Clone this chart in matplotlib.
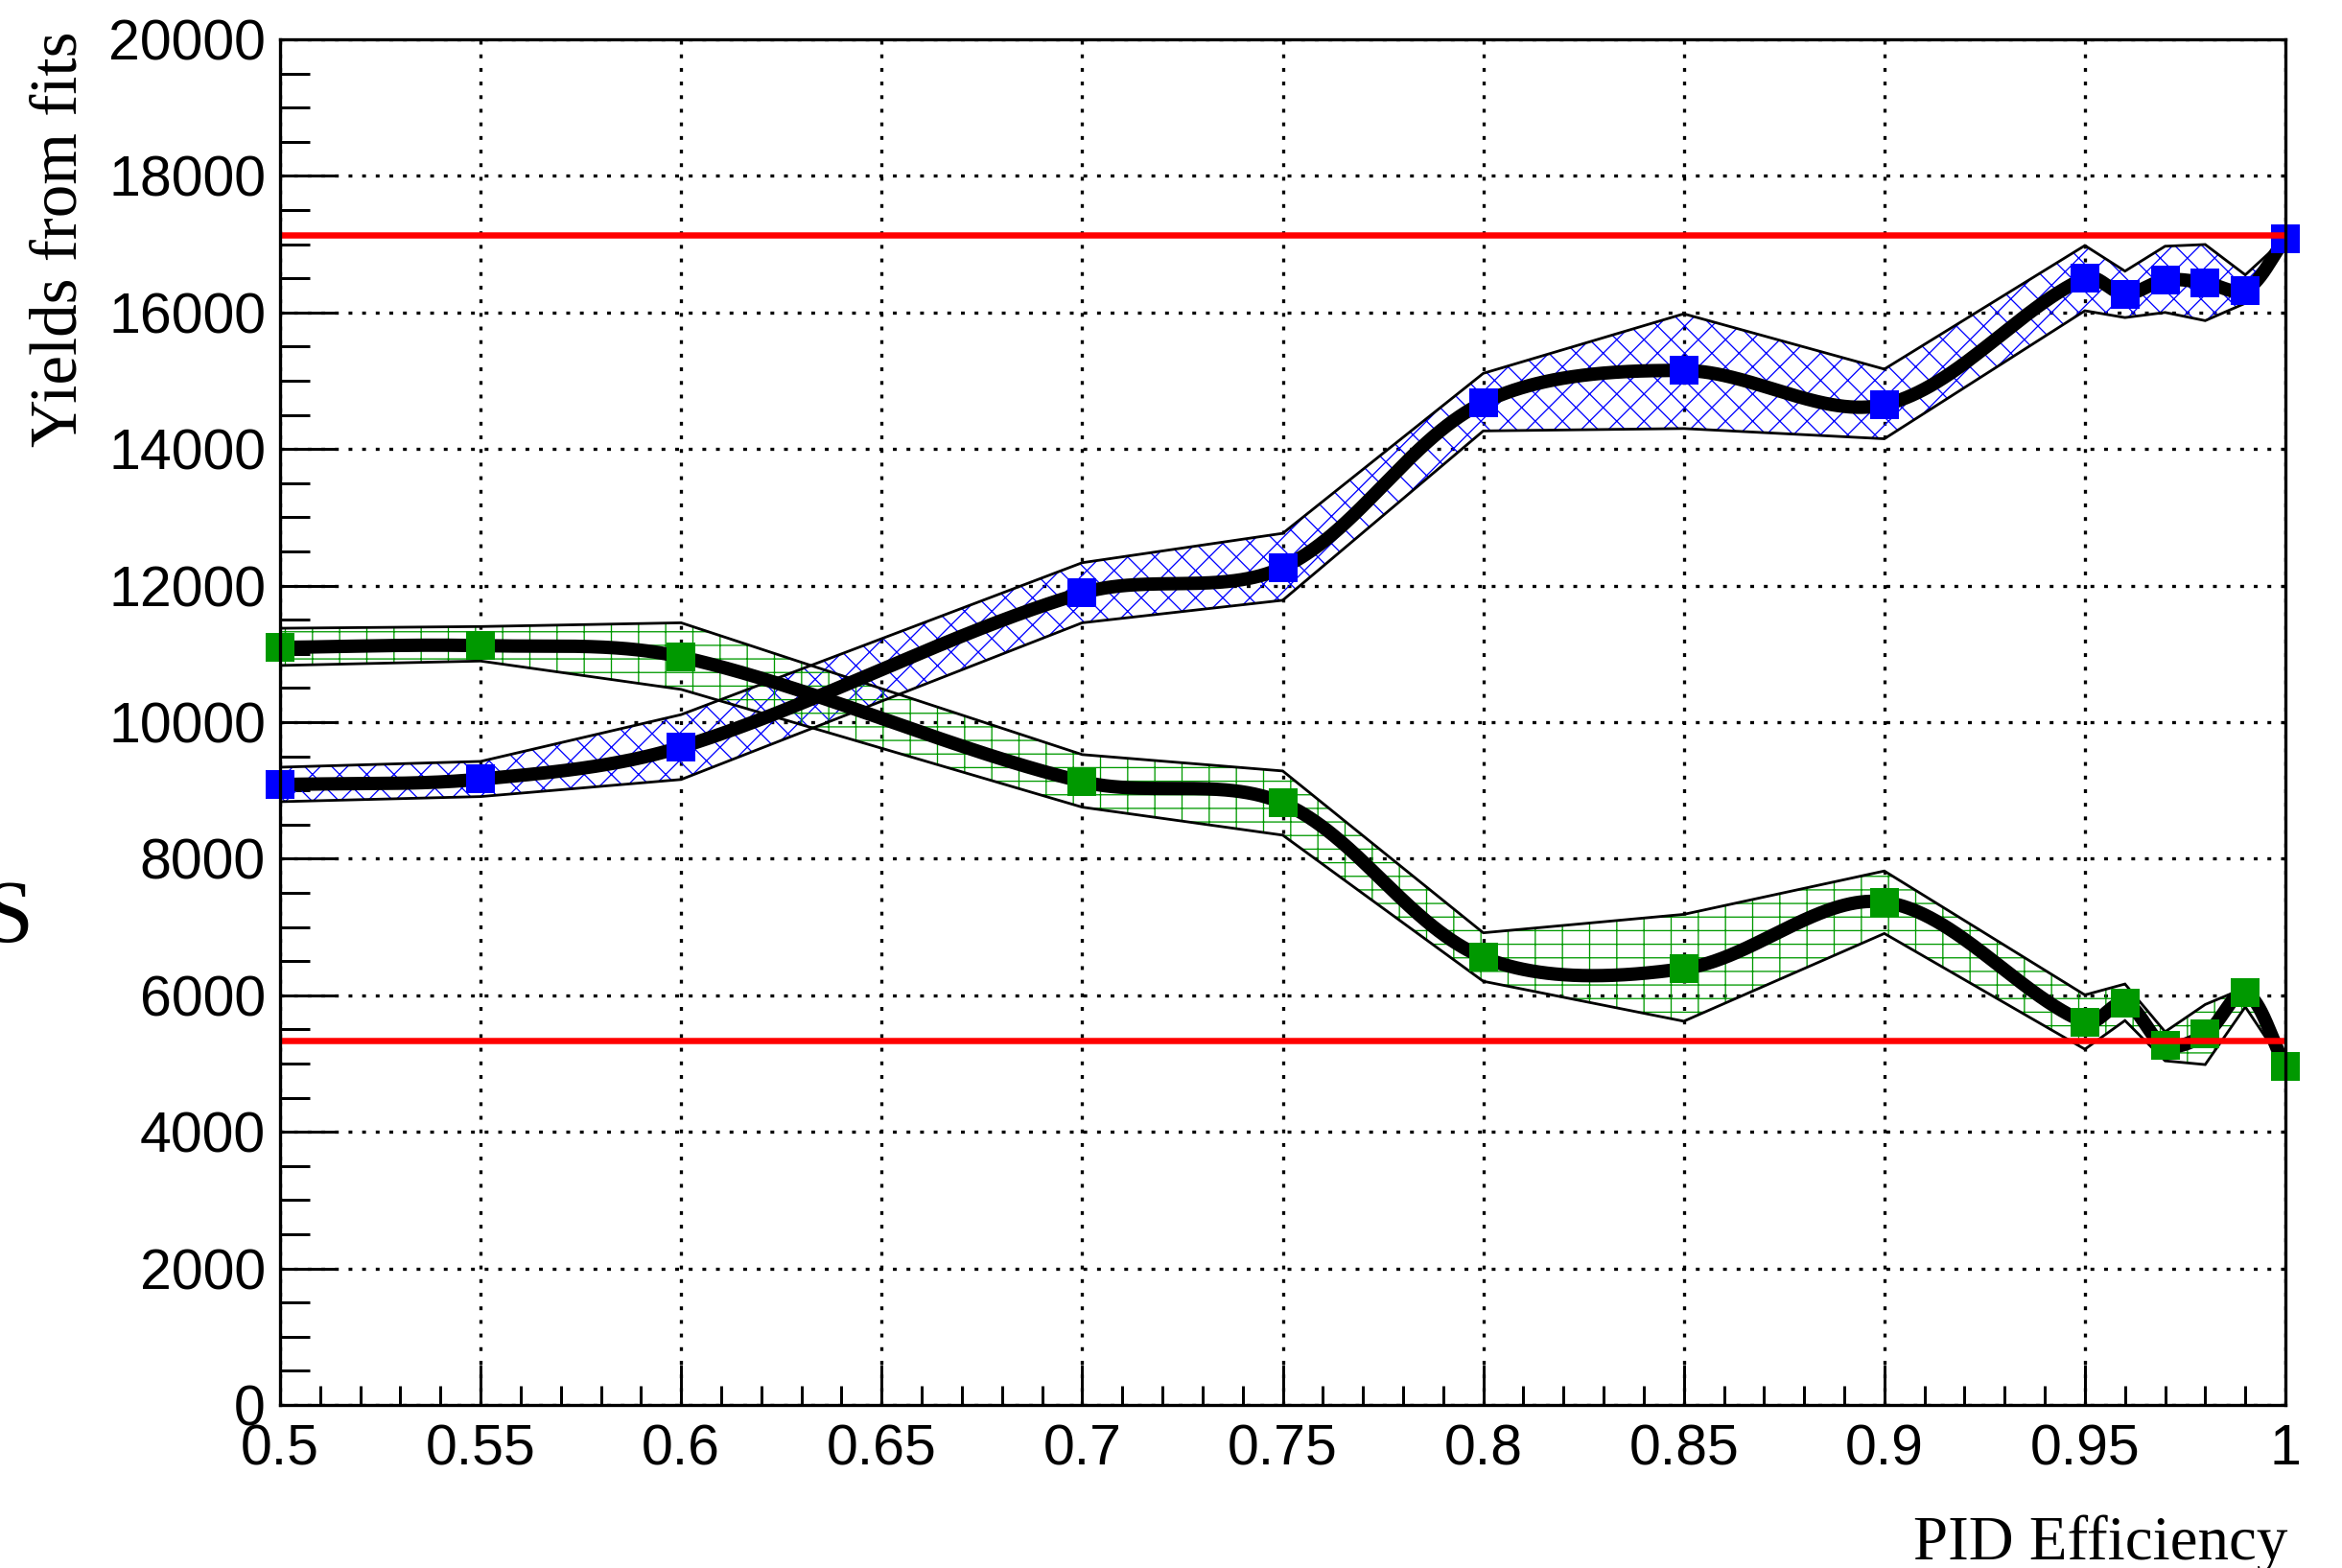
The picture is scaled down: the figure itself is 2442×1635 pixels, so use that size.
import numpy as np
import matplotlib
matplotlib.use("Agg")
import matplotlib.pyplot as plt
from matplotlib.ticker import MultipleLocator, FuncFormatter

DPI = 170
W, H = 2442, 1635


def pt(px):
    """Convert a length in output pixels to points."""
    return px * 72.0 / DPI


# PID efficiency cut values
eff = [0.5, 0.55, 0.6, 0.7, 0.75, 0.8, 0.85, 0.9, 0.95, 0.96, 0.97, 0.98, 0.99, 1.0]

# Signal yields with their uncertainty envelope
sig = [9085, 9165, 9635, 11890, 12265, 14680, 15150, 14650, 16505, 16270, 16475, 16435, 16325, 17080]
sig_hi = [9340, 9425, 10110, 12335, 12765, 15108, 15980, 15170, 16980, 16605, 16970, 16995, 16550, 17090]
sig_lo = [8835, 8910, 9160, 11455, 11785, 14265, 14300, 14150, 16025, 15925, 16000, 15880, 16135, 17070]

# Background yields with their uncertainty envelope
bkg = [11095, 11120, 10955, 9130, 8815, 6555, 6390, 7365, 5605, 5890, 5265, 5430, 6040, 4960]
bkg_hi = [11375, 11400, 11455, 9525, 9285, 6915, 7185, 7820, 6005, 6165, 5465, 5865, 6110, 4970]
bkg_lo = [10830, 10895, 10480, 8755, 8345, 6205, 5620, 6905, 5210, 5630, 5040, 4985, 5830, 4950]

# Reference yields (no PID requirement)
ref_sig = 17135
ref_bkg = 5335

x_min, x_max = 0.5, 1.0
y_min, y_max = 0, 20000

plt.rcParams["hatch.linewidth"] = pt(1.3)

fig = plt.figure(figsize=(W / DPI, H / DPI), dpi=DPI)
ax = fig.add_axes([292 / W, 1 - 1465 / H, (2383 - 292) / W, (1465 - 41) / H])
ax.set_xlim(x_min, x_max)
ax.set_ylim(y_min, y_max)


def smooth(xs, ys, per_seg=200):
    """Chord-length Catmull-Rom curve through the points, in display space."""
    p = ax.transData.transform(np.column_stack([xs, ys]))
    n = len(p)
    d = np.hypot(np.diff(p[:, 0]), np.diff(p[:, 1]))
    t = np.concatenate([[0.0], np.cumsum(d)])
    m = np.zeros_like(p)
    m[0] = (p[1] - p[0]) / (t[1] - t[0])
    m[-1] = (p[-1] - p[-2]) / (t[-1] - t[-2])
    for i in range(1, n - 1):
        m[i] = (p[i + 1] - p[i - 1]) / (t[i + 1] - t[i - 1])
    out = []
    for i in range(n - 1):
        dt = t[i + 1] - t[i]
        s = np.linspace(0, 1, per_seg, endpoint=(i == n - 2))[:, None]
        h00 = 2 * s ** 3 - 3 * s ** 2 + 1
        h10 = s ** 3 - 2 * s ** 2 + s
        h01 = -2 * s ** 3 + 3 * s ** 2
        h11 = s ** 3 - s ** 2
        out.append(h00 * p[i] + h10 * dt * m[i] + h01 * p[i + 1] + h11 * dt * m[i + 1])
    q = ax.transData.inverted().transform(np.vstack(out))
    return q[:, 0], q[:, 1]


# grid
ax.set_axisbelow(True)
ax.grid(True, which="major", color="black", linestyle=(0, (1.2, 3.1)),
        linewidth=pt(3.3))


# uncertainty bands
def band(lo, hi, color, hatch):
    ax.fill_between(eff, lo, hi, facecolor="none", edgecolor=color,
                    hatch=hatch, linewidth=0, zorder=2)
    xs = list(eff) + list(eff[::-1]) + [eff[0]]
    ys = list(hi) + list(lo[::-1]) + [hi[0]]
    ax.plot(xs, ys, color="black", linewidth=pt(2.8), zorder=3,
            solid_joinstyle="miter")


band(sig_lo, sig_hi, "#0000ff", "xx")
band(bkg_lo, bkg_hi, "#009900", "--|")

# smoothed yield curves
for ys in (sig, bkg):
    cx, cy = smooth(eff, ys)
    ax.plot(cx, cy, color="black", linewidth=pt(14), zorder=4,
            solid_capstyle="butt")

# fitted yields
ax.plot(eff, sig, linestyle="none", marker="s", markersize=pt(30),
        markerfacecolor="#0000ff", markeredgewidth=0, zorder=5, clip_on=False)
ax.plot(eff, bkg, linestyle="none", marker="s", markersize=pt(30),
        markerfacecolor="#009900", markeredgewidth=0, zorder=5, clip_on=False)

# reference levels
ax.plot([x_min, x_max], [ref_sig, ref_sig], color="#ff0000",
        linewidth=pt(6.5), zorder=6, solid_capstyle="butt")
ax.plot([x_min, x_max], [ref_bkg, ref_bkg], color="#ff0000",
        linewidth=pt(6.5), zorder=6, solid_capstyle="butt")

# axes styling
for s in ax.spines.values():
    s.set_linewidth(pt(3.3))
    s.set_zorder(7)

ax.xaxis.set_major_locator(MultipleLocator(0.05))
ax.xaxis.set_minor_locator(MultipleLocator(0.01))
ax.yaxis.set_major_locator(MultipleLocator(2000))
ax.yaxis.set_minor_locator(MultipleLocator(500))
fmt = FuncFormatter(lambda v, _: "%g" % round(v, 6))
ax.xaxis.set_major_formatter(fmt)
ax.yaxis.set_major_formatter(fmt)

tick_font = "Liberation Sans"
ax.tick_params(axis="both", which="both", direction="in", top=False,
               right=False, width=pt(3), colors="black")
ax.tick_params(axis="x", which="major", length=pt(42), pad=pt(19),
               labelsize=pt(59))
ax.tick_params(axis="x", which="minor", length=pt(20))
ax.tick_params(axis="y", which="major", length=pt(60), pad=pt(15),
               labelsize=pt(59))
ax.tick_params(axis="y", which="minor", length=pt(31))
for lab in ax.get_xticklabels() + ax.get_yticklabels():
    lab.set_fontfamily(tick_font)

# axis titles
fig.text(63 / W, 1 - 33 / H, "Yields from fits", rotation=90,
         ha="center", va="top", fontsize=pt(69), family="Liberation Serif")
fig.text(2385 / W, 1 - 1626 / H, "PID Efficiency", ha="right",
         va="baseline", fontsize=pt(65), family="Liberation Serif")
fig.text(35 / W, 1 - 982 / H, "S", ha="right", va="baseline",
         fontsize=pt(94), family="Liberation Serif")

fig.savefig("out.png", dpi=DPI)
